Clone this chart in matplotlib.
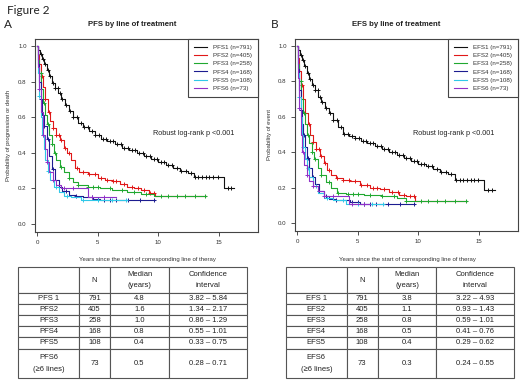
import numpy as np
import matplotlib
matplotlib.use('Agg')
from matplotlib import pyplot as plt

plt.rcParams['font.family'] = ['Liberation Sans', 'DejaVu Sans']

W, H = 520, 383

colors = ['#111111', '#e01818', '#20a830', '#1c1c90', '#30c8e8', '#9030c8']

pfs_labels = ['PFS1 (n=791)', 'PFS2 (n=405)', 'PFS3 (n=258)',
              'PFS4 (n=168)', 'PFS5 (n=108)', 'PFS6 (n=73)']
efs_labels = ['EFS1 (n=791)', 'EFS2 (n=405)', 'EFS3 (n=258)',
              'EFS4 (n=168)', 'EFS5 (n=108)', 'EFS6 (n=73)']

# PFS curves: step times (years), survival, censor times
pfs1_t = [0, 0.1, 0.25, 0.4, 0.6, 0.8, 1.0, 1.25, 1.5, 1.75, 2.0, 2.3, 2.6, 3.0, 3.4, 3.8, 4.3, 4.8,
          5.3, 5.8, 6.4, 7.0, 7.6, 8.2, 8.8, 9.4, 10.0, 10.6, 11.2, 11.8, 12.4, 12.9, 15.4, 16.2]
pfs1_s = [1.0, 0.98, 0.955, 0.93, 0.90, 0.865, 0.83, 0.795, 0.765, 0.735, 0.70, 0.67, 0.635, 0.60,
          0.57, 0.545, 0.52, 0.50, 0.48, 0.465, 0.45, 0.43, 0.415, 0.40, 0.38, 0.365, 0.35, 0.33,
          0.315, 0.30, 0.285, 0.265, 0.20, 0.20]
pfs1_c = [0.3, 0.5, 0.7, 0.9, 1.1, 1.3, 1.5, 1.7, 1.9, 2.1, 2.4, 2.7, 3.0, 3.3, 3.6, 3.9, 4.2, 4.5,
          4.8, 5.1, 5.4, 5.7, 6.0, 6.3, 6.6, 6.9, 7.2, 7.5, 7.8, 8.1, 8.4, 8.7, 9.0, 9.3, 9.6, 9.9,
          10.2, 10.5, 10.8, 11.1, 11.5, 11.9, 12.3, 12.7, 13.0, 13.3, 13.6, 13.9, 14.2, 14.5, 14.9,
          15.7, 16.0]

pfs2_t = [0, 0.1, 0.2, 0.35, 0.5, 0.7, 0.9, 1.1, 1.3, 1.6, 1.9, 2.2, 2.5, 2.8, 3.1, 3.5, 4.2, 5.0,
          5.6, 6.2, 6.8, 7.4, 8.0, 8.6, 9.2, 9.7, 13.9]
pfs2_s = [1.0, 0.95, 0.90, 0.83, 0.77, 0.70, 0.63, 0.58, 0.54, 0.50, 0.47, 0.43, 0.40, 0.36, 0.315,
          0.29, 0.28, 0.26, 0.25, 0.24, 0.225, 0.21, 0.20, 0.19, 0.175, 0.155, 0.155]
pfs2_c = [0.4, 0.7, 1.0, 1.3, 1.6, 1.8, 2.0, 2.3, 2.6, 3.3, 3.8, 4.3, 4.8, 5.3, 5.8, 6.3, 6.5, 7.2,
          7.8, 8.3, 8.8, 9.3, 9.6]

pfs3_t = [0, 0.1, 0.2, 0.35, 0.5, 0.65, 0.8, 1.0, 1.2, 1.4, 1.6, 1.9, 2.2, 2.6, 3.0, 3.4, 4.2, 5.2,
          6.2, 7.4, 8.6, 9.6, 13.9]
pfs3_s = [1.0, 0.92, 0.85, 0.76, 0.68, 0.61, 0.56, 0.50, 0.45, 0.40, 0.36, 0.32, 0.29, 0.26, 0.235,
          0.22, 0.21, 0.20, 0.19, 0.18, 0.17, 0.155, 0.155]
pfs3_c = [0.3, 0.6, 0.9, 1.2, 1.5, 2.0, 2.6, 3.4, 4.2, 4.6, 5.0, 6.0, 7.0, 8.0, 9.0, 10.2, 10.8,
          11.5, 12.2, 13.0, 13.8]

pfs4_t = [0, 0.1, 0.2, 0.3, 0.45, 0.6, 0.8, 1.0, 1.2, 1.5, 1.8, 2.1, 2.6, 3.2, 3.8, 4.6, 5.2, 9.7]
pfs4_s = [1.0, 0.90, 0.80, 0.70, 0.61, 0.55, 0.48, 0.38, 0.31, 0.25, 0.21, 0.185, 0.165, 0.155,
          0.15, 0.14, 0.135, 0.135]
pfs4_c = [0.3, 0.6, 0.9, 1.3, 1.8, 2.4, 3.2, 4.5, 5.0, 5.5, 6.0, 6.5, 7.5, 8.5, 9.6]

pfs5_t = [0, 0.1, 0.2, 0.3, 0.4, 0.55, 0.7, 0.9, 1.1, 1.4, 1.8, 2.2, 2.8, 3.6, 7.4]
pfs5_s = [1.0, 0.85, 0.72, 0.60, 0.50, 0.42, 0.36, 0.30, 0.25, 0.21, 0.18, 0.16, 0.15, 0.135, 0.135]
pfs5_c = [0.2, 0.5, 0.9, 1.6, 2.5, 3.8, 5.0, 6.2, 7.3]

pfs6_t = [0, 0.1, 0.2, 0.35, 0.5, 0.65, 0.8, 1.0, 1.3, 1.6, 2.0, 2.6, 4.2, 6.5]
pfs6_s = [1.0, 0.88, 0.76, 0.63, 0.50, 0.42, 0.35, 0.29, 0.25, 0.22, 0.205, 0.20, 0.15, 0.15]
pfs6_c = [0.2, 0.5, 0.8, 1.3, 2.2, 3.0, 4.5, 5.5]

# EFS curves
efs1_t = [0, 0.1, 0.25, 0.4, 0.6, 0.8, 1.0, 1.25, 1.5, 1.75, 2.0, 2.3, 2.6, 3.0, 3.4, 3.8, 4.3, 4.8,
          5.3, 5.8, 6.4, 7.0, 7.6, 8.2, 8.8, 9.4, 10.0, 10.6, 11.2, 11.8, 12.4, 13.0, 15.4, 16.3]
efs1_s = [1.0, 0.98, 0.95, 0.92, 0.885, 0.85, 0.815, 0.78, 0.75, 0.715, 0.685, 0.65, 0.62, 0.585,
          0.54, 0.505, 0.49, 0.48, 0.465, 0.45, 0.435, 0.42, 0.40, 0.385, 0.37, 0.35, 0.335, 0.32,
          0.305, 0.29, 0.275, 0.245, 0.185, 0.185]
efs1_c = [0.3, 0.5, 0.7, 0.9, 1.1, 1.3, 1.5, 1.7, 1.9, 2.1, 2.4, 2.7, 3.0, 3.3, 3.6, 3.9, 4.2, 4.5,
          4.8, 5.1, 5.4, 5.7, 6.0, 6.3, 6.6, 6.9, 7.2, 7.5, 7.8, 8.1, 8.4, 8.7, 9.0, 9.3, 9.6, 9.9,
          10.2, 10.5, 10.8, 11.1, 11.5, 11.9, 12.3, 12.7, 13.1, 13.4, 13.7, 14.0, 14.3, 14.6, 14.9,
          15.7, 16.1]

efs2_t = [0, 0.1, 0.2, 0.35, 0.5, 0.7, 0.9, 1.1, 1.3, 1.6, 1.9, 2.2, 2.5, 2.8, 3.2, 3.8, 4.4, 5.2,
          6.0, 6.8, 7.6, 8.4, 9.0, 9.7, 14.0]
efs2_s = [1.0, 0.93, 0.86, 0.78, 0.70, 0.62, 0.56, 0.50, 0.46, 0.42, 0.38, 0.34, 0.30, 0.27, 0.255,
          0.245, 0.235, 0.215, 0.20, 0.19, 0.175, 0.16, 0.15, 0.125, 0.125]
efs2_c = [0.4, 0.7, 1.0, 1.3, 1.6, 1.8, 2.0, 2.3, 2.6, 3.3, 3.8, 4.3, 4.8, 5.3, 5.8, 6.3, 6.6, 7.2,
          7.8, 8.3, 8.8, 9.3, 9.6]

efs3_t = [0, 0.1, 0.2, 0.35, 0.5, 0.65, 0.8, 1.0, 1.2, 1.4, 1.7, 2.0, 2.4, 2.8, 3.3, 4.0, 5.5, 7.0,
          8.2, 9.0, 14.0]
efs3_s = [1.0, 0.90, 0.80, 0.70, 0.62, 0.56, 0.50, 0.45, 0.40, 0.36, 0.31, 0.27, 0.23, 0.20, 0.17,
          0.165, 0.16, 0.15, 0.14, 0.125, 0.125]
efs3_c = [0.3, 0.6, 0.9, 1.2, 1.5, 2.0, 2.6, 3.4, 4.2, 4.6, 5.0, 6.0, 7.0, 8.0, 9.0, 10.2, 10.8,
          11.5, 12.2, 13.0, 13.9]

efs4_t = [0, 0.1, 0.2, 0.3, 0.4, 0.5, 0.65, 0.8, 1.0, 1.2, 1.5, 1.8, 2.2, 2.6, 3.2, 4.4, 5.2, 9.7]
efs4_s = [1.0, 0.87, 0.75, 0.64, 0.56, 0.50, 0.43, 0.37, 0.31, 0.26, 0.22, 0.18, 0.15, 0.135, 0.13,
          0.12, 0.105, 0.105]
efs4_c = [0.3, 0.6, 0.9, 1.3, 1.8, 2.4, 3.2, 4.5, 5.0, 5.5, 6.0, 6.5, 7.5, 8.5, 9.6]

efs5_t = [0, 0.1, 0.2, 0.3, 0.4, 0.5, 0.65, 0.8, 1.0, 1.3, 1.7, 2.2, 3.0, 4.0, 7.2]
efs5_s = [1.0, 0.85, 0.71, 0.60, 0.50, 0.43, 0.36, 0.31, 0.26, 0.21, 0.17, 0.14, 0.13, 0.105, 0.105]
efs5_c = [0.2, 0.5, 0.9, 1.6, 2.5, 3.8, 5.0, 6.2, 7.1]

efs6_t = [0, 0.1, 0.2, 0.3, 0.45, 0.6, 0.8, 1.0, 1.3, 1.7, 2.2, 4.3, 6.0]
efs6_s = [1.0, 0.82, 0.65, 0.50, 0.40, 0.33, 0.27, 0.24, 0.21, 0.18, 0.155, 0.11, 0.11]
efs6_c = [0.2, 0.5, 0.8, 1.3, 2.2, 3.0, 4.5, 5.5]

# tables
tab_header = ['', 'N', 'Median\n(years)', 'Confidence\ninterval']
pfs_rows = ['PFS 1', 'PFS2', 'PFS3', 'PFS4', 'PFS5', 'PFS6\n(≥6 lines)']
pfs_n = [791, 405, 258, 168, 108, 73]
pfs_median = ['4.8', '1.6', '1.0', '0.8', '0.4', '0.5']
pfs_ci = ['3.82 – 5.84', '1.34 – 2.17', '0.86 – 1.29', '0.55 – 1.01', '0.33 – 0.75', '0.28 – 0.71']
efs_rows = ['EFS 1', 'EFS2', 'EFS3', 'EFS4', 'EFS5', 'EFS6\n(≥6 lines)']
efs_n = [791, 405, 258, 168, 108, 73]
efs_median = ['3.8', '1.1', '0.8', '0.5', '0.4', '0.3']
efs_ci = ['3.22 – 4.93', '0.93 – 1.43', '0.59 – 1.01', '0.41 – 0.76', '0.29 – 0.62', '0.24 – 0.55']


def px_axes(fig, x0, y0, x1, y1):
    """axes placed by pixel box (top-left origin)"""
    return fig.add_axes([x0 / W, 1 - y1 / H, (x1 - x0) / W, (y1 - y0) / H])


def surv_at(t, s, times):
    idx = np.searchsorted(t, times, side='right') - 1
    return np.asarray(s)[idx]


def km_panel(ax, curves, labels):
    for (t, s, cens), col, lab in zip(curves, colors, labels):
        ax.step(t, s, where='post', color=col, lw=0.8, label=lab)
        ax.plot(cens, surv_at(t, s, cens), '+', color=col, ms=3, mew=0.7)
    ax.set_xlim(-0.16, 18.2)
    ax.set_ylim(-0.045, 1.04)
    ax.set_xticks([0, 5, 10, 15])
    ax.set_yticks([0.0, 0.2, 0.4, 0.6, 0.8, 1.0])
    ax.set_yticklabels(['0.0', '0.2', '0.4', '0.6', '0.8', '1.0'])
    ax.tick_params(direction='out', length=3, width=0.6, labelsize=4.4, pad=3, colors='#333333')
    for sp in ax.spines.values():
        sp.set_color('#444444')
        sp.set_linewidth(0.8)
    leg = ax.legend(loc='upper right', borderaxespad=0, fancybox=False, fontsize=4.5,
                    handlelength=2.0, handletextpad=1.1, labelspacing=0.45, borderpad=0.9,
                    edgecolor='#444444', framealpha=1)
    leg.get_frame().set_linewidth(0.8)
    for txt in leg.get_texts():
        txt.set_color('#333333')
    ax.text(0.71, 0.51, 'Robust log-rank p <0.001', transform=ax.transAxes,
            ha='center', va='center', fontsize=5.2, color='#222222')


def draw_table(ax, rows, n, median, ci):
    cells = [[rows[i], str(n[i]), median[i], ci[i]] for i in range(len(rows))]
    tab = ax.table(cellText=[tab_header] + cells, cellLoc='center', bbox=[0, 0, 1, 1])
    tab.auto_set_font_size(False)
    tab.set_fontsize(5.5)
    col_w = [61, 31, 59, 78]
    row_h = [26, 11, 11, 11, 11, 12, 29]
    for (r, c), cell in tab.get_celld().items():
        cell.set_width(col_w[c])
        cell.set_height(row_h[r])
        cell.set_edgecolor('#555555')
        cell.set_linewidth(0.8)
        cell.get_text().set_color('#222222')
        cell.get_text().set_linespacing(1.7 if r == 0 else 1.9)
    ax.axis('off')


fig = plt.figure(figsize=(W / 100, H / 100), dpi=100)

pfs_curves = [(pfs1_t, pfs1_s, pfs1_c), (pfs2_t, pfs2_s, pfs2_c), (pfs3_t, pfs3_s, pfs3_c),
              (pfs4_t, pfs4_s, pfs4_c), (pfs5_t, pfs5_s, pfs5_c), (pfs6_t, pfs6_s, pfs6_c)]
efs_curves = [(efs1_t, efs1_s, efs1_c), (efs2_t, efs2_s, efs2_c), (efs3_t, efs3_s, efs3_c),
              (efs4_t, efs4_s, efs4_c), (efs5_t, efs5_s, efs5_c), (efs6_t, efs6_s, efs6_c)]

ax1 = px_axes(fig, 35, 39, 258, 232)
km_panel(ax1, pfs_curves, pfs_labels)
ax2 = px_axes(fig, 295, 39, 518, 231)
km_panel(ax2, efs_curves, efs_labels)

fig.text(7 / W, 1 - 10 / H, 'Figure 2', fontsize=8.5, family=['Lato', 'DejaVu Sans'],
         va='center', color='#222222')
fig.text(4 / W, 1 - 25 / H, 'A', fontsize=8.5, family=['Lato', 'DejaVu Sans'],
         va='center', color='#222222')
fig.text(271 / W, 1 - 24 / H, 'B', fontsize=8.5, family=['Lato', 'DejaVu Sans'],
         va='center', color='#222222')
fig.text(132 / W, 1 - 24 / H, 'PFS by line of treatment', fontsize=5.6, fontweight='bold',
         ha='center', va='center', color='#222222')
fig.text(396 / W, 1 - 24 / H, 'EFS by line of treatment', fontsize=5.6, fontweight='bold',
         ha='center', va='center', color='#222222')
fig.text(9 / W, 1 - 135 / H, 'Probability of progression or death', rotation=90, fontsize=4.3,
         ha='center', va='center', color='#333333')
fig.text(269 / W, 1 - 135 / H, 'Probability of event', rotation=90, fontsize=4.3,
         ha='center', va='center', color='#333333')
fig.text(147 / W, 1 - 259 / H, 'Years since the start of corresponding line of theray',
         fontsize=4.3, ha='center', va='center', color='#333333')
fig.text(407 / W, 1 - 259 / H, 'Years since the start of corresponding line of theray',
         fontsize=4.3, ha='center', va='center', color='#333333')

tax1 = px_axes(fig, 18, 267, 247, 378)
draw_table(tax1, pfs_rows, pfs_n, pfs_median, pfs_ci)
tax2 = px_axes(fig, 286, 267, 514, 378)
draw_table(tax2, efs_rows, efs_n, efs_median, efs_ci)

fig.savefig('out.png', dpi=100)
